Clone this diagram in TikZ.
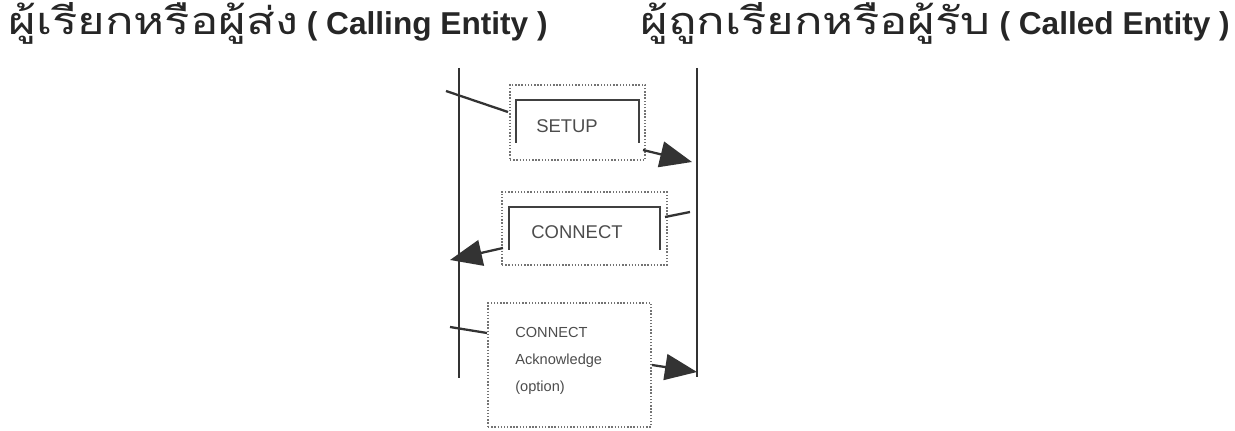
\documentclass[tikz,border=0pt]{standalone}
\usepackage{fontspec}
\setmainfont{Liberation Sans}
\newfontfamily\thaifont[Script=Thai, FakeStretch=1.25]{Loma}
\usetikzlibrary{arrows.meta}

\begin{document}
\begin{tikzpicture}[x=0.02cm, y=-0.02cm,
  >={Triangle[length=0.64cm, width=0.52cm]},
  title/.style={anchor=west, inner sep=0pt, font=\bfseries\fontsize{18}{22}\selectfont, text=black!85},
  lifeline/.style={line width=1.4pt, black!80},
  pduframe/.style={draw=black!55, densely dotted, line width=0.8pt, inner sep=0pt},
  bracket/.style={line width=1.3pt, black!75},
  msg/.style={line width=1.3pt, black!80},
  pdutext/.style={font=\fontsize{10.5}{12}\selectfont, text=black!70},
  notetext/.style={font=\fontsize{8.3}{10}\selectfont, text=black!70, anchor=west, inner sep=0pt}]
  \useasboundingbox (0,0) rectangle (1235,431);

  % Headings
  \node[title] (caller) at (8,23) {{\thaifont\mdseries\fontsize{21.5}{23}\selectfont ผู้เรียกหรือผู้ส่ง} ( Calling Entity )};
  \node[title] (callee) at (640,23) {{\thaifont\mdseries\fontsize{21.5}{23}\selectfont ผู้ถูกเรียกหรือผู้รับ} ( Called Entity )};

  % Lifelines
  \coordinate (calltop) at (459,68);
  \coordinate (callbot) at (459,378);
  \coordinate (calledtop) at (697,68);
  \coordinate (calledbot) at (697,377);
  \draw[lifeline] (calltop) -- (callbot);
  \draw[lifeline] (calledtop) -- (calledbot);

  % SETUP
  \node[pduframe, minimum width=2.7cm, minimum height=1.5cm] (setupbox) at (577.5,122.5) {};
  \draw[bracket] (516,143) |- (639,100) -- (639,143);
  \node[pdutext] (setup) at (567,126) {SETUP};
  \coordinate (s0) at (446,91);
  \coordinate (s1) at (508,112);
  \coordinate (s2) at (643,150);
  \coordinate (s3) at (692,162);
  \draw[msg] (s0) -- (s1);
  \draw[msg, ->] (s2) -- (s3);

  % CONNECT
  \node[pduframe, minimum width=3.3cm, minimum height=1.46cm] (connbox) at (584.5,228.5) {};
  \draw[bracket] (509,250) |- (660,207) -- (660,250);
  \node[pdutext] (connect) at (577,232) {CONNECT};
  \coordinate (c0) at (690,212);
  \coordinate (c1) at (665,217);
  \coordinate (c2) at (503,248);
  \coordinate (c3) at (450,260);
  \draw[msg] (c0) -- (c1);
  \draw[msg, ->] (c2) -- (c3);

  % CONNECT Acknowledge
  \node[pduframe, minimum width=3.26cm, minimum height=2.48cm] (ackbox) at (569.5,365) {};
  \node[notetext] (ack1) at (515,332) {CONNECT};
  \node[notetext] (ack2) at (515,361) {Acknowledge};
  \node[notetext] (ack3) at (515,388) {(option)};
  \coordinate (a0) at (450,327);
  \coordinate (a1) at (487,333);
  \coordinate (a2) at (652,365);
  \coordinate (a3) at (697,372);
  \draw[msg] (a0) -- (a1);
  \draw[msg, ->] (a2) -- (a3);
\end{tikzpicture}
\end{document}
